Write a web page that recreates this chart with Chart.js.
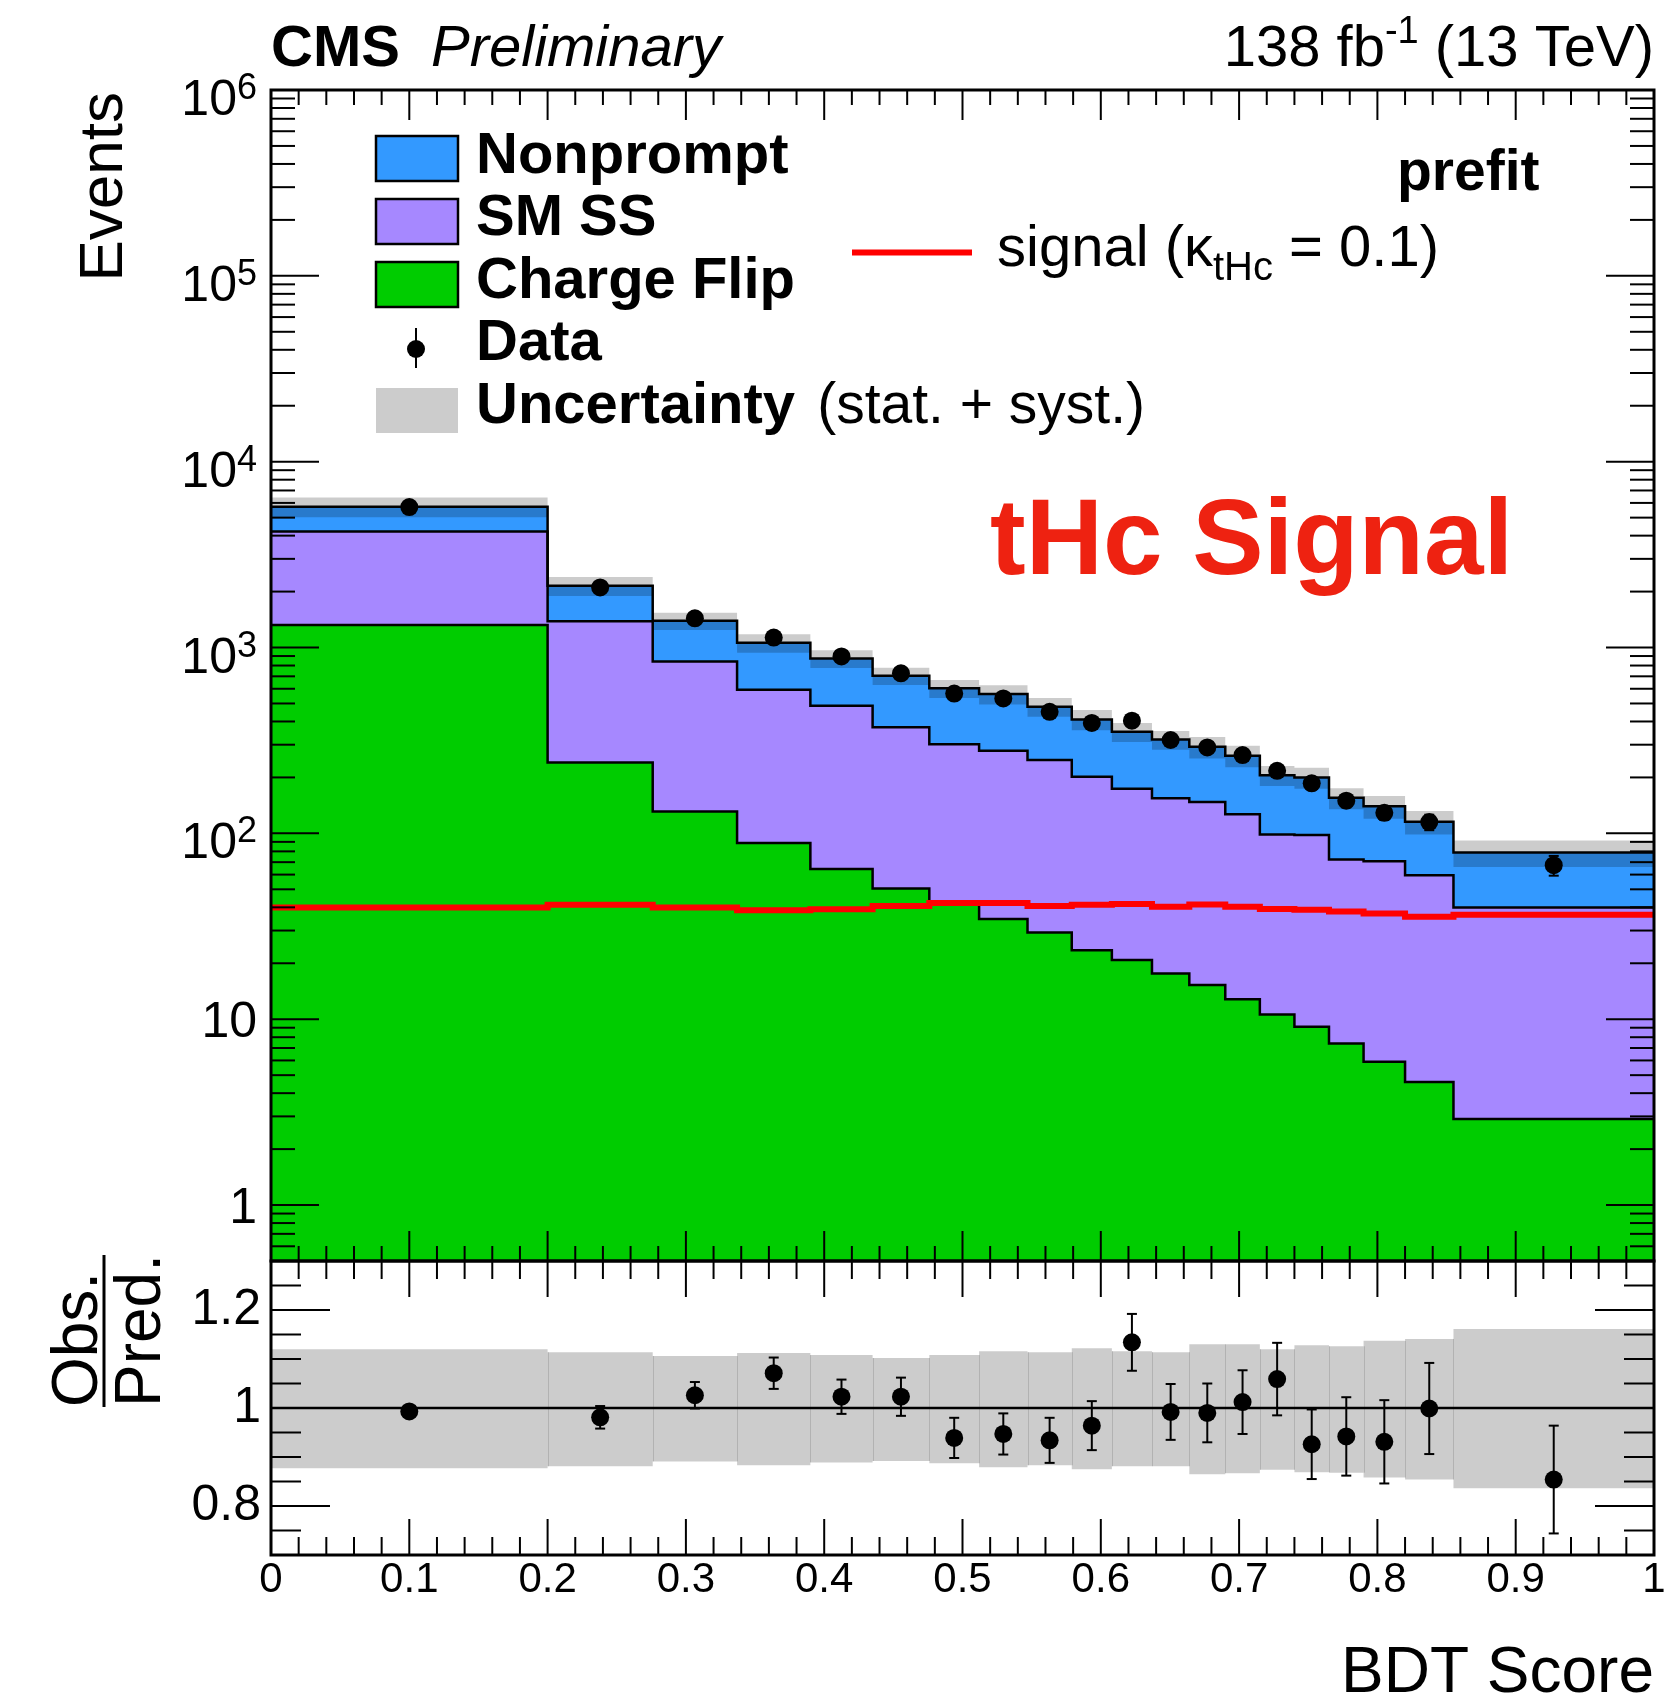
<!DOCTYPE html>
<html><head><meta charset="utf-8">
<script src="https://cdn.jsdelivr.net/npm/chart.js@4.4.1/dist/chart.umd.min.js"></script>
<style>
html,body{margin:0;padding:0;background:#fff;}
#wrap{position:relative;width:1670px;height:1697px;background:#fff;}
canvas{position:absolute;left:0;top:0;}
</style></head><body>
<div id="wrap">
<canvas id="main" width="1670" height="1697"></canvas>
<canvas id="ratio" width="1670" height="1697"></canvas>
</div>
<script>
// ---------------- data ----------------
const binEdges   = [0, 0.2, 0.276, 0.337, 0.39, 0.435, 0.476, 0.512, 0.547, 0.579, 0.608, 0.637, 0.664, 0.69, 0.715, 0.74, 0.765, 0.79, 0.82, 0.855, 1.0];
const chargeFlip = [1321, 241, 131, 88.7, 64.4, 50.5, 42, 34.6, 29.3, 23.5, 20.8, 17.6, 15.3, 12.8, 10.6, 9.1, 7.4, 5.9, 4.6, 2.9];
const smSS       = [2896, 1142, 711, 504, 422, 322, 260, 244, 219, 178, 153, 137, 132, 114, 88, 89, 65, 65, 55, 37];
const nonprompt  = [1511, 769, 551, 468, 387, 333, 301, 283, 232, 209, 178, 165, 145, 135, 107, 102, 83, 69, 56, 39];
const signalTHc  = [39.9, 41.3, 39.9, 38.6, 39.1, 40.7, 42.2, 42.2, 40.7, 41.3, 41.7, 40.3, 41.4, 40.3, 39.2, 38.8, 38.0, 37.1, 35.6, 36.5];
const dataCounts = [5700, 2106, 1436, 1132, 895, 726, 565, 532, 451, 393, 404, 318, 290, 264, 217, 186, 150, 129, 115, 67.4];
const dataErr    = [76, 46, 38, 34, 30, 27, 24, 23, 21, 20, 20, 18, 17, 16, 15, 14, 12, 11, 11, 8.2];
const uncUp      = [1.120, 1.114, 1.106, 1.112, 1.108, 1.102, 1.108, 1.116, 1.114, 1.122, 1.116, 1.114, 1.130, 1.130, 1.120, 1.128, 1.126, 1.137, 1.141, 1.161];
const uncDown    = [0.877, 0.881, 0.891, 0.883, 0.889, 0.892, 0.887, 0.879, 0.883, 0.875, 0.881, 0.881, 0.865, 0.867, 0.874, 0.869, 0.868, 0.858, 0.854, 0.836];
const ratioVals  = [0.993, 0.981, 1.026, 1.071, 1.023, 1.023, 0.939, 0.947, 0.934, 0.964, 1.134, 0.992, 0.990, 1.012, 1.059, 0.926, 0.942, 0.931, 0.999, 0.854];
const ratioErr   = [0.005, 0.023, 0.027, 0.032, 0.035, 0.039, 0.041, 0.042, 0.046, 0.050, 0.058, 0.057, 0.060, 0.065, 0.074, 0.071, 0.080, 0.085, 0.093, 0.110];
const xTickLabels = ['0', '0.1', '0.2', '0.3', '0.4', '0.5', '0.6', '0.7', '0.8', '0.9', '1'];
const xTickValues = [0, 0.1, 0.2, 0.3, 0.4, 0.5, 0.6, 0.7, 0.8, 0.9, 1];
const yTickExponents = [0, 1, 2, 3, 4, 5, 6];
const ratioTickValues = [0.8, 1.0, 1.2];
const ratioTickLabels = ['0.8', '1', '1.2'];
const legendLabels = ['Nonprompt', 'SM SS', 'Charge Flip', 'Data', 'Uncertainty'];

// ---------------- helpers ----------------
const F = "'Liberation Sans', Arial, Helvetica, sans-serif";
Chart.defaults.font.family = F;
Chart.defaults.color = '#000';
const COL_NP = '#3399ff', COL_SM = '#a688ff', COL_CF = '#00cc00', COL_BAND = 'rgba(0,0,0,0.2)';

function stepPts(vals){
  const p = vals.map((v,i)=>({x: binEdges[i], y: v}));
  p.push({x: binEdges[binEdges.length-1], y: vals[vals.length-1]});
  return p;
}
const centers = binEdges.slice(0,-1).map((e,i)=>(e+binEdges[i+1])/2);
const cumSM  = chargeFlip.map((v,i)=>v+smSS[i]);
const cumTot = cumSM.map((v,i)=>v+nonprompt[i]);
const bandHi = cumTot.map((v,i)=>v*uncUp[i]);
const bandLo = cumTot.map((v,i)=>v*uncDown[i]);

function ln(ctx,x1,y1,x2,y2){ctx.beginPath();ctx.moveTo(x1,y1);ctx.lineTo(x2,y2);ctx.stroke();}
function segText(ctx, segs, x, y, align){
  let w = 0;
  segs.forEach(s=>{ctx.font=s[1]; w += ctx.measureText(s[0]).width;});
  let cx = align==='right' ? x - w : x;
  ctx.textAlign='left';
  segs.forEach(s=>{ctx.font=s[1]; ctx.fillText(s[0], cx, y + (s[2]||0)); cx += ctx.measureText(s[0]).width;});
}
function drawXTicks(ctx, xs, area, maj, min){
  for(let i=0;i<=50;i++){
    const px = xs.getPixelForValue(i/50);
    const L = (i%5===0)?maj:min;
    ln(ctx,px,area.bottom,px,area.bottom-L);
    ln(ctx,px,area.top,px,area.top+L);
  }
}

// ---------------- main panel ----------------
const mainPlugin = {
  id:'mainDeco',
  afterDatasetsDraw(chart){
    const {ctx, scales:{x,y}} = chart;
    ctx.save(); ctx.strokeStyle='#000'; ctx.lineWidth=2;
    dataCounts.forEach((d,i)=>{
      const px=x.getPixelForValue(centers[i]);
      const y1=y.getPixelForValue(d+dataErr[i]), y2=y.getPixelForValue(d-dataErr[i]);
      ln(ctx,px,y1,px,y2); ln(ctx,px-5,y1,px+5,y1); ln(ctx,px-5,y2,px+5,y2);
    });
    ctx.restore();
  },
  afterDraw(chart){
    const {ctx, chartArea:a, scales:{x,y}} = chart;
    ctx.save();
    ctx.strokeStyle='#000'; ctx.fillStyle='#000';
    ctx.lineWidth=2;
    drawXTicks(ctx, x, a, 30, 15);
    for(let k=-1;k<=6;k++){
      for(let m=1;m<=9;m++){
        const v=m*Math.pow(10,k);
        if(v<0.5-1e-9||v>1e6+1e-3) continue;
        const py=y.getPixelForValue(v);
        const L=(m===1)?48:24;
        ln(ctx,a.left,py,a.left+L,py); ln(ctx,a.right,py,a.right-L,py);
      }
    }
    ctx.lineWidth=3; ctx.strokeRect(a.left,a.top,a.right-a.left,a.bottom-a.top);
    ctx.textBaseline='alphabetic';
    yTickExponents.forEach(e=>{
      const py=y.getPixelForValue(Math.pow(10,e));
      if(e===0) segText(ctx,[['1',`50px ${F}`,0]],257,py+18,'right');
      else if(e===1) segText(ctx,[['10',`50px ${F}`,0]],257,py+18,'right');
      else segText(ctx,[['10',`50px ${F}`,0],[String(e),`36px ${F}`,-16]],257,py+25,'right');
    });
    // header
    ctx.font=`bold 58px ${F}`; ctx.textAlign='left'; ctx.fillText('CMS',271,66);
    ctx.font=`italic 58px ${F}`; ctx.fillText('Preliminary',431,66);
    segText(ctx,[['138 fb',`58px ${F}`,0],['-1',`38px ${F}`,-23],[' (13 TeV)',`58px ${F}`,0]],1654,66,'right');
    // axis titles
    ctx.save(); ctx.translate(122,92); ctx.rotate(-Math.PI/2);
    ctx.font=`62px ${F}`; ctx.textAlign='right'; ctx.fillText('Events',0,0); ctx.restore();
    ctx.font=`64px ${F}`; ctx.textAlign='right'; ctx.fillText('BDT Score',1654,1692);
    // legend
    const boxes=[[COL_NP,136,181],[COL_SM,199,244],[COL_CF,262,307]];
    ctx.lineWidth=2.5;
    boxes.forEach(b=>{ctx.fillStyle=b[0]; ctx.fillRect(376,b[1],82,b[2]-b[1]); ctx.strokeStyle='#000'; ctx.strokeRect(376,b[1],82,b[2]-b[1]);});
    ctx.fillStyle=COL_BAND; ctx.fillRect(376,388,82,45);
    ctx.fillStyle='#000'; ctx.lineWidth=2;
    ln(ctx,416,328,416,368);
    ctx.beginPath(); ctx.arc(416,349,9,0,Math.PI*2); ctx.fill();
    ctx.font=`bold 58px ${F}`; ctx.textAlign='left';
    const lb=[173,235,298,360,423];
    legendLabels.forEach((t,i)=>ctx.fillText(t,476,lb[i]));
    const wU=ctx.measureText('Uncertainty ').width;
    ctx.font=`57px ${F}`; ctx.fillText('(stat. + syst.)',476+wU+6,423);
    ctx.font=`bold 57px ${F}`; ctx.fillText('prefit',1397,190);
    ctx.strokeStyle='#ff0000'; ctx.lineWidth=6; ln(ctx,852,252.5,972,252.5);
    segText(ctx,[['signal (\u03BA',`58px ${F}`,0],['tHc',`40px ${F}`,14],[' = 0.1)',`58px ${F}`,0]],997,266,'left');
    ctx.fillStyle='#ee2211'; ctx.font=`bold 107px ${F}`; ctx.textAlign='left'; ctx.fillText('tHc Signal',990,574);
    // ratio title
    ctx.fillStyle='#000';
    ctx.save(); ctx.translate(97,1407); ctx.rotate(-Math.PI/2);
    ctx.font=`64px ${F}`; ctx.textAlign='left'; ctx.fillText('Obs.',0,0);
    ctx.fillText('Pred.',0,63);
    ctx.restore();
    ctx.strokeStyle='#000'; ctx.lineWidth=3; ln(ctx,104,1407,104,1255);
    ctx.restore();
  }
};

const mainChart = new Chart(document.getElementById('main'), {
  type:'line',
  data:{datasets:[
    {label:'Data', data:dataCounts.map((v,i)=>({x:centers[i],y:v})), showLine:false, pointRadius:9, pointBackgroundColor:'#000', pointBorderWidth:0, pointHoverRadius:9},
    {label:'signal', data:stepPts(signalTHc), stepped:'before', borderColor:'#ff0000', borderWidth:6, pointRadius:0, fill:false},
    {label:'UncHi', data:stepPts(bandHi), stepped:'before', borderColor:'rgba(0,0,0,0)', borderWidth:1, pointRadius:0, fill:3, backgroundColor:COL_BAND},
    {label:'UncLo', data:stepPts(bandLo), stepped:'before', borderColor:'rgba(0,0,0,0)', borderWidth:1, pointRadius:0, fill:false},
    {label:'Nonprompt', data:stepPts(cumTot), stepped:'before', borderColor:'#000', borderWidth:2.5, pointRadius:0, fill:5, backgroundColor:COL_NP},
    {label:'SM SS', data:stepPts(cumSM), stepped:'before', borderColor:'#000', borderWidth:2.5, pointRadius:0, fill:6, backgroundColor:COL_SM},
    {label:'Charge Flip', data:stepPts(chargeFlip), stepped:'before', borderColor:'#000', borderWidth:2.5, pointRadius:0, fill:'start', backgroundColor:COL_CF}
  ]},
  options:{
    responsive:false, animation:false, events:[],
    layout:{padding:{left:271,right:16,top:90,bottom:436}},
    plugins:{legend:{display:false}, tooltip:{enabled:false}, filler:{drawTime:'beforeDatasetsDraw', propagate:false}},
    scales:{
      x:{type:'linear', min:0, max:1, display:false},
      y:{type:'logarithmic', min:0.5, max:1e6, display:false}
    }
  },
  plugins:[mainPlugin]
});

// ---------------- ratio panel ----------------
const ratioPlugin = {
  id:'ratioDeco',
  beforeDatasetsDraw(chart){
    const {ctx, chartArea:a, scales:{x,y}} = chart;
    ctx.save();
    ctx.strokeStyle='rgba(0,0,0,0.13)'; ctx.lineWidth=1;
    for(let i=1;i<binEdges.length-1;i++){
      const px=Math.round(x.getPixelForValue(binEdges[i]))+0.5;
      const hi=Math.min(uncUp[i-1],uncUp[i]), lo=Math.max(uncDown[i-1],uncDown[i]);
      ln(ctx,px,y.getPixelForValue(hi),px,y.getPixelForValue(lo));
    }
    ctx.strokeStyle='#000'; ctx.lineWidth=2.5;
    const p1=y.getPixelForValue(1);
    ln(ctx,a.left,p1,a.right,p1);
    ctx.restore();
  },
  afterDatasetsDraw(chart){
    const {ctx, scales:{x,y}} = chart;
    ctx.save(); ctx.strokeStyle='#000'; ctx.lineWidth=2;
    ratioVals.forEach((r,i)=>{
      const px=x.getPixelForValue(centers[i]);
      const y1=y.getPixelForValue(r+ratioErr[i]), y2=y.getPixelForValue(r-ratioErr[i]);
      ln(ctx,px,y1,px,y2); ln(ctx,px-5,y1,px+5,y1); ln(ctx,px-5,y2,px+5,y2);
    });
    ctx.restore();
  },
  afterDraw(chart){
    const {ctx, chartArea:a, scales:{x,y}} = chart;
    ctx.save(); ctx.strokeStyle='#000'; ctx.lineWidth=2;
    drawXTicks(ctx, x, a, 36, 18);
    for(let i=1;i<12;i++){
      const v=0.7+i*0.05;
      const py=y.getPixelForValue(v);
      const major=(i===2||i===6||i===10);
      const L=major?59:30;
      ln(ctx,a.left,py,a.left+L,py); ln(ctx,a.right,py,a.right-L,py);
    }
    ctx.lineWidth=3; ctx.strokeRect(a.left,a.top,a.right-a.left,a.bottom-a.top);
    ctx.restore();
  }
};

const ratioChart = new Chart(document.getElementById('ratio'), {
  type:'line',
  data:{datasets:[
    {label:'Obs/Pred', data:ratioVals.map((v,i)=>({x:centers[i],y:v})), showLine:false, pointRadius:9, pointBackgroundColor:'#000', pointBorderWidth:0, pointHoverRadius:9},
    {label:'UncHi', data:stepPts(uncUp), stepped:'before', borderColor:'rgba(0,0,0,0)', borderWidth:1, pointRadius:0, fill:2, backgroundColor:COL_BAND},
    {label:'UncLo', data:stepPts(uncDown), stepped:'before', borderColor:'rgba(0,0,0,0)', borderWidth:1, pointRadius:0, fill:false}
  ]},
  options:{
    responsive:false, animation:false, events:[],
    layout:{padding:{left:0,right:16,top:1261,bottom:0}},
    plugins:{legend:{display:false}, tooltip:{enabled:false}, filler:{drawTime:'beforeDatasetsDraw', propagate:false}},
    scales:{
      x:{type:'linear', min:0, max:1,
         grid:{display:false, drawTicks:false}, border:{display:false},
         afterBuildTicks:s=>{s.ticks=xTickValues.map(v=>({value:v}));},
         afterFit:s=>{s.height=142;},
         ticks:{padding:0, maxRotation:0, autoSkip:false, font:{size:42}, color:'#000',
                callback:(v,i)=>xTickLabels[i]}},
      y:{type:'linear', min:0.7, max:1.3,
         grid:{display:false, drawTicks:false}, border:{display:false},
         afterBuildTicks:s=>{s.ticks=ratioTickValues.map(v=>({value:v}));},
         afterFit:s=>{s.width=271;},
         ticks:{padding:10, font:{size:50}, color:'#000',
                callback:(v,i)=>ratioTickLabels[i]}}
    }
  },
  plugins:[ratioPlugin]
});
</script>
</body></html>
